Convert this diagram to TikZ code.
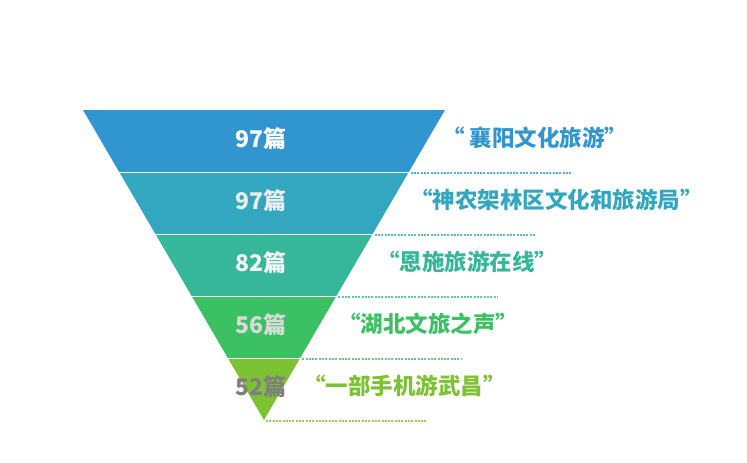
\documentclass[tikz,border=0pt]{standalone}
\usepackage{fontspec}
\setmainfont{Noto Sans CJK SC}
\usetikzlibrary{positioning,calc}

\definecolor{bandA}{HTML}{3196D0}
\definecolor{bandB}{HTML}{33A6C0}
\definecolor{bandC}{HTML}{36B79A}
\definecolor{bandD}{HTML}{3BC163}
\definecolor{bandE}{HTML}{7DC232}
\definecolor{numA}{HTML}{FFFFFF}
\definecolor{numB}{HTML}{EDEDED}
\definecolor{numC}{HTML}{F4F4F4}
\definecolor{numD}{HTML}{D9D9D9}
\definecolor{numE}{HTML}{7F7F7F}

\begin{document}
\begin{tikzpicture}[x=1pt, y=-1pt,
    num/.style={font=\bfseries\fontsize{23}{23}\selectfont},
    lbl/.style={font=\bfseries\fontsize{22.5}{22.5}\selectfont, anchor=west, inner sep=0pt},
    dots/.style={draw=#1!80, line width=2pt, dash pattern=on 2pt off 1.3pt}]
    \useasboundingbox (0,0) rectangle (747,463);

    % Funnel bands, numbers, names and dotted rules
    \foreach \i/\col/\ncol/\cnt/\lx/\txt in {0/bandA/numA/97/442/{“ 襄阳文化旅游”}, 1/bandB/numB/97/410/{“神农架林区文化和旅游局”}, 2/bandC/numC/82/377/{“恩施旅游在线”}, 3/bandD/numD/56/338/{“湖北文旅之声”}, 4/bandE/numE/52/303/{“一部手机游武昌”}} {
        \pgfmathsetmacro{\ytop}{110+62*\i}
        \pgfmathsetmacro{\ybot}{\ytop+62}
        \pgfmathsetmacro{\wtop}{181/310*(420-\ytop)}
        \pgfmathsetmacro{\wbot}{181/310*(420-\ybot)}
        \fill[\col] (264-\wtop,\ytop) -- (264+\wtop,\ytop) -- (264+\wbot,\ybot) -- (264-\wbot,\ybot) -- cycle;
        \node[num, text=\ncol] (num\i) at (261,\ytop+29) {\cnt{}篇};
        \node[lbl, text=\col] (lbl\i) at (\lx,\ytop+28) {\txt};
        \coordinate (dls\i) at (266+\wbot,\ybot+1);
        \coordinate (dle\i) at ($(dls\i)+(160,0)$);
        \draw[dots=\col] (dls\i) -- (dle\i);
    }

    % Separators
    \foreach \i in {1,...,4} {
        \pgfmathsetmacro{\yb}{110+62*\i}
        \pgfmathsetmacro{\wb}{181/310*(420-\yb)}
        \draw[white, line width=1pt] (264-\wb,\yb) -- (264+\wb,\yb);
    }
\end{tikzpicture}
\end{document}
